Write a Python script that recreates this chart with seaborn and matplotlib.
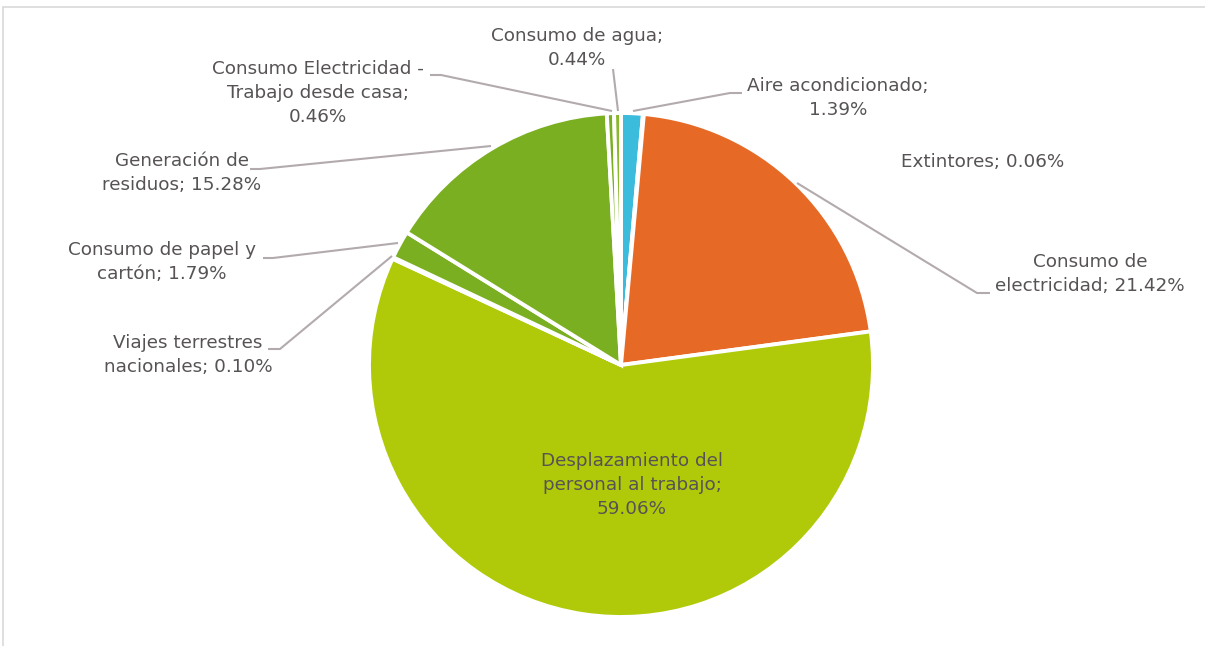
import matplotlib
matplotlib.use("Agg")
import matplotlib.pyplot as plt
import seaborn as sns
from matplotlib.patches import Rectangle

sns.set_style("white")
plt.rcParams['font.family'] = ['DejaVu Sans']

# Data (clockwise from 12 o'clock)
categories = [
    "Aire acondicionado", "Extintores", "Consumo de electricidad",
    "Desplazamiento del personal al trabajo", "Viajes terrestres nacionales",
    "Consumo de papel y cartón", "Generación de residuos",
    "Consumo Electricidad - Trabajo desde casa", "Consumo de agua",
]
shares = [1.39, 0.06, 21.42, 59.06, 0.10, 1.79, 15.28, 0.46, 0.44]
colors = ["#3BBCDC", "#E66A26", "#E66A26", "#B0CA0A", "#B0CA0A",
          "#7BAF22", "#7BAF22", "#7BAF22", "#8CB82E"]

label_texts = [
    "Aire acondicionado;\n1.39%",
    "Extintores; 0.06%",
    "Consumo de\nelectricidad; 21.42%",
    "Desplazamiento del\npersonal al trabajo;\n59.06%",
    "Viajes terrestres\nnacionales; 0.10%",
    "Consumo de papel y\ncartón; 1.79%",
    "Generación de\nresiduos; 15.28%",
    "Consumo Electricidad -\nTrabajo desde casa;\n0.46%",
    "Consumo de agua;\n0.44%",
]

W, H = 1205, 646
TXT = "#575355"
LINE = "#B3AAAE"

fig = plt.figure(figsize=(W / 100, H / 100), dpi=100)
ax = fig.add_axes([0, 0, 1, 1])


def Y(y):
    return H - y


ax.pie(shares, colors=colors, startangle=90, counterclock=False,
       center=(621, Y(365)), radius=252,
       wedgeprops=dict(edgecolor="white", linewidth=2.8))
ax.set_xlim(0, W)
ax.set_ylim(0, H)
ax.set_aspect("equal")
ax.axis("off")

# chart frame
fig.patches.append(Rectangle((3 / W, -0.1), 1.2, (H - 6.5) / H + 0.1,
                             transform=fig.transFigure, fill=False,
                             edgecolor="#D9D9D9", linewidth=1.2))

# label positions (pixel centers)
label_pos = [(838, 98), (983, 162), (1090, 274), (632, 485), (188, 355),
             (162, 262), (182, 173), (318, 93), (577, 48)]
for txt, (x, y) in zip(label_texts, label_pos):
    ax.text(x, Y(y), txt, ha="center", va="center", fontsize=13.2,
            color=TXT, linespacing=1.45)

# leader lines
leaders = [
    [(742, 93), (730, 93), (633, 111)],
    [(990, 293), (977, 293), (797, 183)],
    [(268, 349), (280, 349), (392, 256)],
    [(263, 258), (273, 258), (398, 243)],
    [(250, 169), (260, 169), (491, 146)],
    [(430, 75), (441, 75), (612, 111)],
    [(613, 69), (618, 111)],
]
for pts in leaders:
    xs = [p[0] for p in pts]
    ys = [Y(p[1]) for p in pts]
    ax.plot(xs, ys, color=LINE, linewidth=1.5, solid_capstyle="butt")

fig.savefig("out.png", dpi=100)
